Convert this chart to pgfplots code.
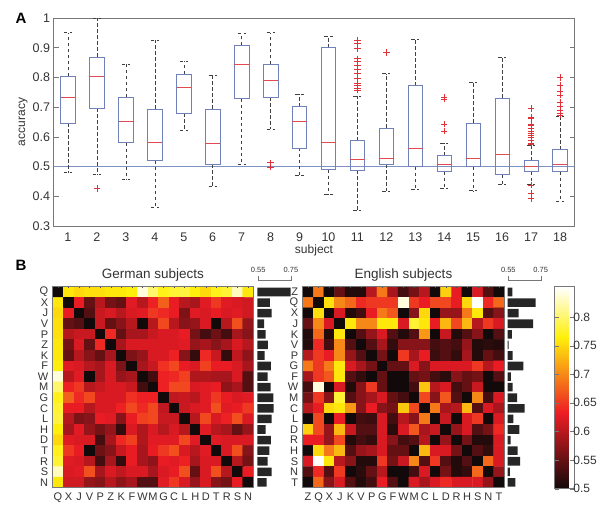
\documentclass[border=0pt]{standalone}
\usepackage{fontspec}
\setmainfont{Liberation Sans}
\usepackage{pgfplots}
\pgfplotsset{compat=1.18}
\usepgfplotslibrary{statistics}
\definecolor{txt}{HTML}{333333}
\definecolor{frame}{HTML}{777777}
\definecolor{boxblue}{HTML}{7080B8}
\definecolor{medred}{HTML}{E04A50}
\definecolor{outred}{HTML}{E03038}
\definecolor{lineblue}{HTML}{7D92C0}
\definecolor{barblack}{HTML}{262626}
\pgfplotsset{
  hotmap/.style={
    colormap={myhot}{rgb255(0cm)=(18,10,10); rgb255(3cm)=(237,28,36); rgb255(6cm)=(255,240,10); rgb255(8cm)=(255,255,255)},
    point meta min=0.5, point meta max=0.853,
    anchor=south west, scale only axis, enlargelimits=false,
    xmin=-0.5, xmax=18.5, ymin=-0.5, ymax=18.5, y dir=reverse,
    xtick={0,...,18}, ytick={0,...,18},
    axis line style={frame, line width=0.5pt},
    major tick length=1.8pt, xtick pos=top, xticklabel pos=bottom,
    ytick style={draw=none},
    xtick style={draw=black!70, line width=0.4pt},
    tick label style={font=\fontsize{11}{11}\selectfont, text=txt},
    xticklabel style={yshift=-2pt},
    yticklabel style={xshift=-1pt},
    axis on top,
  },
  sidebars/.style={
    anchor=south west, scale only axis, xbar, bar width=8.6pt,
    bar shift=0pt,
    ymin=-0.5, ymax=18.5, y dir=reverse, axis lines=none, clip=false,
  },
}
\newcommand{\mycells}[1]{\addplot[matrix plot*, mesh/cols=19, point meta=explicit]
   table[row sep=\\, header=false, x expr={\coordindex-19*floor((\coordindex+0.5)/19)}, y expr={floor((\coordindex+0.5)/19)}, meta index=0] {#1};}
\begin{document}
\begin{tikzpicture}
\path[use as bounding box] (0pt,0pt) rectangle (600pt,511pt);
\begin{axis}[
  at={(53.5pt,285pt)}, anchor=south west, scale only axis,
  width=521pt, height=208pt,
  xmin=0.5, xmax=18.5, ymin=0.3, ymax=1,
  xtick={1,...,18}, ytick={0.3,0.4,...,1.0},
  yticklabel style={/pgf/number format/fixed, /pgf/number format/precision=1},
  /pgf/number format/assume math mode=true,
  tick label style={font=\fontsize{12.5}{12.5}\selectfont, text=txt},
  xticklabel style={yshift=-3pt},
  label style={font=\fontsize{12}{12}\selectfont, text=txt},
  xlabel={subject}, ylabel={accuracy},
  xlabel style={yshift=3pt}, ylabel style={yshift=-2pt},
  axis line style={frame, line width=0.6pt},
  ytick style={frame, line width=0.5pt},
  major tick length=5pt, ytick pos=both,
  x tick style={draw=none},
  boxplot/draw direction=y,
  boxplot/box extend=0.5, boxplot/whisker extend=0.28,
  boxplot/every box/.style={draw=boxblue, line width=0.6pt},
  boxplot/every median/.style={draw=medred, line width=0.7pt},
  boxplot/every whisker/.style={draw=black!75, line width=0.5pt, dash pattern=on 3.5pt off 2.5pt},
]
\addplot[draw=lineblue, line width=0.7pt, forget plot] coordinates {(0.5,0.5) (18.5,0.5)};
\addplot[boxplot prepared={draw position=1, lower whisker=0.48, lower quartile=0.646, median=0.734, upper quartile=0.804, upper whisker=0.951}] coordinates {};
\addplot[boxplot prepared={draw position=2, lower whisker=0.473, lower quartile=0.696, median=0.803, upper quartile=0.869, upper whisker=1.0}] coordinates {};
\addplot[boxplot prepared={draw position=3, lower whisker=0.456, lower quartile=0.581, median=0.652, upper quartile=0.734, upper whisker=0.846}] coordinates {};
\addplot[boxplot prepared={draw position=4, lower whisker=0.362, lower quartile=0.52, median=0.58, upper quartile=0.694, upper whisker=0.925}] coordinates {};
\addplot[boxplot prepared={draw position=5, lower whisker=0.622, lower quartile=0.679, median=0.766, upper quartile=0.81, upper whisker=0.856}] coordinates {};
\addplot[boxplot prepared={draw position=6, lower whisker=0.433, lower quartile=0.508, median=0.579, upper quartile=0.694, upper whisker=0.809}] coordinates {};
\addplot[boxplot prepared={draw position=7, lower whisker=0.507, lower quartile=0.729, median=0.844, upper quartile=0.908, upper whisker=0.948}] coordinates {};
\addplot[boxplot prepared={draw position=8, lower whisker=0.625, lower quartile=0.733, median=0.79, upper quartile=0.845, upper whisker=0.951}] coordinates {};
\addplot[boxplot prepared={draw position=9, lower whisker=0.472, lower quartile=0.563, median=0.652, upper quartile=0.702, upper whisker=0.745}] coordinates {};
\addplot[boxplot prepared={draw position=10, lower whisker=0.406, lower quartile=0.49, median=0.583, upper quartile=0.9, upper whisker=0.94}] coordinates {};
\addplot[boxplot prepared={draw position=11, lower whisker=0.352, lower quartile=0.487, median=0.524, upper quartile=0.587, upper whisker=0.737}] coordinates {};
\addplot[boxplot prepared={draw position=12, lower whisker=0.417, lower quartile=0.508, median=0.527, upper quartile=0.63, upper whisker=0.813}] coordinates {};
\addplot[boxplot prepared={draw position=13, lower whisker=0.425, lower quartile=0.5, median=0.56, upper quartile=0.772, upper whisker=0.928}] coordinates {};
\addplot[boxplot prepared={draw position=14, lower whisker=0.428, lower quartile=0.483, median=0.508, upper quartile=0.537, upper whisker=0.58}] coordinates {};
\addplot[boxplot prepared={draw position=15, lower whisker=0.419, lower quartile=0.5, median=0.527, upper quartile=0.647, upper whisker=0.785}] coordinates {};
\addplot[boxplot prepared={draw position=16, lower whisker=0.44, lower quartile=0.473, median=0.54, upper quartile=0.731, upper whisker=0.867}] coordinates {};
\addplot[boxplot prepared={draw position=17, lower whisker=0.44, lower quartile=0.483, median=0.5, upper quartile=0.52, upper whisker=0.573}] coordinates {};
\addplot[boxplot prepared={draw position=18, lower whisker=0.384, lower quartile=0.483, median=0.508, upper quartile=0.557, upper whisker=0.67}] coordinates {};
\addplot[only marks, mark=+, mark size=3.2pt, mark options={draw=outred, line width=0.5pt}, forget plot] coordinates {
 (2,0.426) (8,0.513) (8,0.499)
 (11,0.924) (11,0.915) (11,0.897) (11,0.863) (11,0.853) (11,0.842) (11,0.827) (11,0.813) (11,0.796) (11,0.78) (11,0.775) (11,0.763) (11,0.757)
 (12,0.884)
 (14,0.733) (14,0.727) (14,0.644) (14,0.62)
 (17,0.695) (17,0.667) (17,0.661) (17,0.642) (17,0.638) (17,0.628) (17,0.62) (17,0.611) (17,0.606) (17,0.598) (17,0.589) (17,0.58) (17,0.575) (17,0.437) (17,0.409) (17,0.392)
 (18,0.8) (18,0.774) (18,0.755) (18,0.74) (18,0.715) (18,0.703) (18,0.69) (18,0.679) (18,0.674)
};
\end{axis}
% German heat map
\begin{axis}[hotmap, at={(52.7pt,23.3pt)}, width=200.6pt, height=201pt,
  xticklabels={Q,X,J,V,P,Z,K,F,W,M,G,C,L,H,D,T,R,S,N},
  yticklabels={Q,X,J,V,P,Z,K,F,W,M,G,C,L,H,D,T,R,S,N},
  title={German subjects}, title style={font=\fontsize{13.5}{13.5}\selectfont, text=txt, yshift=-4pt}]
\mycells{
.5\\.76\\.75\\.755\\.755\\.76\\.76\\.765\\.84\\.80\\.77\\.78\\.785\\.765\\.75\\.77\\.78\\.83\\.76\\
.76\\.5\\.63\\.55\\.60\\.56\\.55\\.625\\.60\\.635\\.675\\.63\\.60\\.59\\.625\\.65\\.625\\.62\\.615\\
.75\\.63\\.5\\.54\\.61\\.62\\.60\\.62\\.625\\.65\\.64\\.63\\.565\\.625\\.62\\.63\\.62\\.625\\.615\\
.755\\.55\\.54\\.5\\.61\\.55\\.57\\.60\\.5\\.60\\.66\\.60\\.57\\.58\\.62\\.5\\.60\\.665\\.58\\
.755\\.60\\.61\\.61\\.5\\.64\\.55\\.59\\.59\\.61\\.62\\.62\\.63\\.56\\.53\\.555\\.53\\.59\\.57\\
.76\\.56\\.62\\.55\\.64\\.5\\.59\\.62\\.62\\.62\\.62\\.62\\.625\\.58\\.59\\.57\\.59\\.62\\.60\\
.76\\.55\\.60\\.57\\.55\\.59\\.5\\.565\\.58\\.62\\.62\\.635\\.57\\.52\\.64\\.61\\.52\\.605\\.575\\
.765\\.625\\.62\\.60\\.59\\.62\\.565\\.5\\.59\\.61\\.645\\.66\\.63\\.62\\.655\\.63\\.63\\.62\\.59\\
.84\\.60\\.625\\.5\\.59\\.62\\.58\\.59\\.5\\.53\\.635\\.64\\.655\\.595\\.595\\.59\\.59\\.62\\.54\\
.80\\.635\\.65\\.60\\.61\\.62\\.62\\.61\\.53\\.5\\.635\\.66\\.66\\.62\\.625\\.63\\.575\\.59\\.54\\
.77\\.675\\.64\\.66\\.62\\.62\\.62\\.645\\.635\\.635\\.5\\.605\\.61\\.60\\.625\\.65\\.63\\.62\\.625\\
.78\\.63\\.63\\.60\\.62\\.62\\.635\\.66\\.64\\.66\\.605\\.5\\.61\\.62\\.625\\.665\\.625\\.63\\.65\\
.785\\.60\\.565\\.57\\.63\\.625\\.57\\.63\\.655\\.66\\.61\\.61\\.5\\.60\\.66\\.62\\.635\\.665\\.62\\
.765\\.59\\.625\\.58\\.56\\.58\\.52\\.62\\.595\\.62\\.60\\.62\\.60\\.5\\.625\\.60\\.59\\.55\\.58\\
.75\\.625\\.62\\.62\\.53\\.59\\.64\\.655\\.595\\.625\\.625\\.625\\.66\\.625\\.5\\.625\\.62\\.62\\.62\\
.77\\.65\\.63\\.5\\.555\\.57\\.61\\.63\\.59\\.63\\.65\\.665\\.62\\.60\\.625\\.5\\.62\\.665\\.57\\
.78\\.625\\.62\\.60\\.53\\.59\\.52\\.63\\.59\\.575\\.63\\.625\\.635\\.59\\.62\\.62\\.5\\.60\\.56\\
.83\\.62\\.625\\.665\\.59\\.62\\.605\\.62\\.62\\.59\\.62\\.63\\.665\\.55\\.62\\.665\\.60\\.5\\.63\\
.76\\.615\\.615\\.58\\.57\\.60\\.575\\.59\\.54\\.54\\.625\\.65\\.62\\.58\\.62\\.57\\.56\\.63\\.5\\
}
\end{axis}
% German bars
\begin{axis}[sidebars, at={(257.3pt,23.3pt)}, width=34.7pt, height=201pt, xmin=0.544, xmax=0.756]
\addplot[xbar, fill=barblack, draw=none, bar shift=0pt] coordinates {
(0.748,0) (0.621,1) (0.631,2) (0.585,3) (0.595,4) (0.608,5) (0.589,6) (0.627,7) (0.607,8) (0.625,9)
(0.642,10) (0.644,11) (0.631,12) (0.595,13) (0.627,14) (0.617,15) (0.607,16) (0.631,17) (0.601,18)};
\draw[frame, line width=0.5pt] (axis cs:0.55,-1.5) -- (axis cs:0.55,-1.1) -- (axis cs:0.75,-1.1) -- (axis cs:0.75,-1.5);
\node[font=\fontsize{7.5}{7.5}\selectfont, text=txt] at (axis cs:0.55,-2.1) {0.55};
\node[font=\fontsize{7.5}{7.5}\selectfont, text=txt] at (axis cs:0.75,-2.1) {0.75};
\end{axis}
% English heat map
\begin{axis}[hotmap, at={(302.7pt,23.3pt)}, width=201.6pt, height=201pt,
  xticklabels={Z,Q,X,J,K,V,P,G,F,W,M,C,L,D,R,H,S,N,T},
  yticklabels={Z,Q,X,J,K,V,P,G,F,W,M,C,L,D,R,H,S,N,T},
  title={English subjects}, title style={font=\fontsize{13.5}{13.5}\selectfont, text=txt, yshift=-4pt},
  colorbar,
  colorbar style={at={(parent axis.north east)}, anchor=north west, xshift=41.7pt,
     width=19.3pt, height=202pt, ymin=0.5, ymax=0.853,
     ytick={0.5,0.55,...,0.81}, y dir=normal, yticklabel pos=right,
     yticklabel style={/pgf/number format/fixed, /pgf/number format/precision=2, /pgf/number format/assume math mode=true, xshift=-4pt, font=\fontsize{12}{12}\selectfont, text=txt},
     major tick length=4pt, tick align=inside, tick style={frame}, axis line style={frame, line width=0.6pt}}]
\mycells{
.5\\.69\\.5\\.55\\.51\\.51\\.60\\.69\\.59\\.53\\.56\\.60\\.5\\.745\\.63\\.5\\.62\\.54\\.5\\
.69\\.5\\.755\\.70\\.68\\.64\\.65\\.65\\.65\\.84\\.65\\.63\\.66\\.66\\.63\\.75\\.85\\.64\\.68\\
.5\\.755\\.5\\.62\\.51\\.53\\.63\\.69\\.67\\.5\\.57\\.75\\.5\\.58\\.58\\.69\\.76\\.54\\.57\\
.55\\.70\\.62\\.5\\.76\\.70\\.70\\.76\\.76\\.62\\.78\\.76\\.63\\.73\\.66\\.73\\.60\\.65\\.62\\
.51\\.68\\.51\\.76\\.5\\.54\\.58\\.62\\.54\\.51\\.54\\.71\\.5\\.61\\.51\\.54\\.57\\.5\\.54\\
.51\\.64\\.53\\.70\\.54\\.5\\.54\\.59\\.52\\.57\\.57\\.57\\.53\\.54\\.53\\.58\\.51\\.515\\.51\\
.60\\.65\\.63\\.70\\.58\\.54\\.5\\.56\\.5\\.65\\.59\\.63\\.525\\.54\\.52\\.59\\.51\\.55\\.53\\
.69\\.65\\.69\\.76\\.62\\.59\\.56\\.5\\.55\\.55\\.62\\.57\\.62\\.62\\.62\\.62\\.65\\.60\\.63\\
.59\\.65\\.67\\.76\\.54\\.52\\.5\\.55\\.5\\.5\\.55\\.56\\.53\\.515\\.57\\.55\\.56\\.5\\.54\\
.53\\.84\\.5\\.62\\.51\\.57\\.65\\.55\\.5\\.5\\.53\\.74\\.60\\.62\\.53\\.55\\.61\\.5\\.5\\
.56\\.65\\.57\\.78\\.54\\.57\\.59\\.62\\.55\\.53\\.5\\.66\\.57\\.67\\.54\\.5\\.70\\.53\\.62\\
.60\\.63\\.75\\.76\\.71\\.57\\.63\\.57\\.56\\.74\\.66\\.5\\.69\\.59\\.60\\.73\\.54\\.62\\.59\\
.5\\.66\\.5\\.63\\.5\\.53\\.525\\.62\\.53\\.60\\.57\\.69\\.5\\.61\\.5\\.62\\.65\\.5\\.62\\
.745\\.66\\.58\\.73\\.61\\.54\\.54\\.62\\.515\\.62\\.67\\.59\\.61\\.5\\.58\\.62\\.54\\.56\\.64\\
.63\\.63\\.58\\.66\\.51\\.53\\.52\\.62\\.57\\.53\\.54\\.60\\.5\\.58\\.5\\.56\\.51\\.51\\.62\\
.5\\.75\\.69\\.73\\.54\\.58\\.59\\.62\\.55\\.55\\.5\\.73\\.62\\.62\\.56\\.5\\.54\\.52\\.62\\
.62\\.85\\.76\\.60\\.57\\.51\\.51\\.65\\.56\\.61\\.70\\.54\\.65\\.54\\.51\\.54\\.5\\.68\\.62\\
.54\\.64\\.54\\.65\\.5\\.515\\.55\\.60\\.5\\.5\\.53\\.62\\.5\\.56\\.51\\.52\\.68\\.5\\.58\\
.5\\.68\\.57\\.62\\.54\\.51\\.53\\.63\\.54\\.5\\.62\\.59\\.62\\.64\\.62\\.62\\.62\\.58\\.5\\
}
\end{axis}
% English bars
\begin{axis}[sidebars, at={(507.7pt,23.3pt)}, width=33.7pt, height=201pt, xmin=0.546, xmax=0.754]
\addplot[xbar, fill=barblack, draw=none, bar shift=0pt] coordinates {
(0.575,0) (0.719,1) (0.614,2) (0.703,3) (0.571,4) (0.552,5) (0.577,6) (0.643,7) (0.566,8) (0.577,9)
(0.604,10) (0.651,11) (0.581,12) (0.618,13) (0.564,14) (0.608,15) (0.622,16) (0.560,17) (0.593,18)};
\draw[frame, line width=0.5pt] (axis cs:0.55,-1.5) -- (axis cs:0.55,-1.1) -- (axis cs:0.75,-1.1) -- (axis cs:0.75,-1.5);
\node[font=\fontsize{7.5}{7.5}\selectfont, text=txt] at (axis cs:0.55,-2.1) {0.55};
\node[font=\fontsize{7.5}{7.5}\selectfont, text=txt] at (axis cs:0.75,-2.1) {0.75};
\end{axis}
\node[font=\fontsize{15}{15}\bfseries\selectfont, text=black] at (21pt,493pt) {A};
\node[font=\fontsize{15}{15}\bfseries\selectfont, text=black] at (21pt,246pt) {B};
\end{tikzpicture}
\end{document}
